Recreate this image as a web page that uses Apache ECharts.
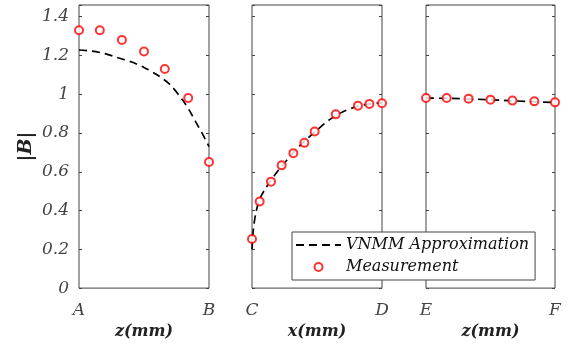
<!DOCTYPE html>
<html><head><meta charset="utf-8">
<script src="https://cdn.jsdelivr.net/npm/echarts@6/dist/echarts.min.js"></script>
<style>html,body{margin:0;padding:0;background:#fff}#c{width:571px;height:345px}</style>
</head><body><div id="c"></div>
<script>
// ---- data ----
const panelNames = ['z(mm)', 'x(mm)', 'z(mm)'];
const endLabels = [['A', 'B'], ['C', 'D'], ['E', 'F']];
const yName = '|B|';
const seriesNames = ['VNMM Approximation', 'Measurement'];

const approxX1 = [0, 0.1, 0.2, 0.3, 0.4, 0.5, 0.6, 0.7, 0.8, 0.85, 0.9, 0.95, 1];
const approxY1 = [1.228, 1.222, 1.209, 1.188, 1.167, 1.138, 1.100, 1.050, 0.967, 0.915, 0.855, 0.795, 0.73];
const measX1 = [0, 0.16, 0.33, 0.5, 0.66, 0.84, 1];
const measY1 = [1.33, 1.33, 1.28, 1.22, 1.13, 0.98, 0.65];

const approxX2 = [0, 0.01, 0.03, 0.06, 0.1, 0.15, 0.2, 0.25, 0.3, 0.4, 0.5, 0.6, 0.7, 0.8, 0.9, 1];
const approxY2 = [0.2, 0.3, 0.39, 0.46, 0.51, 0.56, 0.605, 0.645, 0.685, 0.755, 0.815, 0.87, 0.91, 0.935, 0.95, 0.955];
const measX2 = [0, 0.059, 0.146, 0.228, 0.318, 0.403, 0.482, 0.644, 0.815, 0.903, 1];
const measY2 = [0.253, 0.447, 0.549, 0.633, 0.696, 0.749, 0.808, 0.896, 0.941, 0.950, 0.953];

const approxX3 = [0, 0.2, 0.4, 0.6, 0.8, 1];
const approxY3 = [0.98, 0.978, 0.974, 0.968, 0.962, 0.957];
const measX3 = [0, 0.16, 0.33, 0.5, 0.67, 0.84, 1];
const measY3 = [0.98, 0.98, 0.977, 0.972, 0.967, 0.963, 0.958];

const yMin = 0, yMax = 1.46, yStep = 0.2;

// ---- chart ----
const zip = (a, b) => a.map((v, i) => [v, b[i]]);
const approx = [zip(approxX1, approxY1), zip(approxX2, approxY2), zip(approxX3, approxY3)];
const meas = [zip(measX1, measY1), zip(measX2, measY2), zip(measX3, measY3)];

const FONT = 'DejaVu Serif';
const AXC = '#444';
const grids = [
  {left: 79, right: 362, top: 5, bottom: 55},
  {left: 252, right: 189, top: 5, bottom: 55},
  {left: 426, right: 16, top: 5, bottom: 55}
].map(g => Object.assign(g, {show: true, borderColor: AXC, borderWidth: 1, backgroundColor: '#fff'}));

const xAxis = [0, 1, 2].map(i => ({
  type: 'value', gridIndex: i, min: 0, max: 1, interval: 1,
  name: panelNames[i], nameLocation: 'middle', nameGap: 34,
  nameTextStyle: {fontFamily: FONT, fontStyle: 'italic', fontWeight: 'bold', fontSize: 16, color: '#222'},
  axisLine: {show: false}, axisTick: {show: false}, splitLine: {show: false},
  axisLabel: {margin: 14, fontFamily: FONT, fontStyle: 'italic', fontSize: 17, color: '#444',
    formatter: v => v === 0 ? endLabels[i][0] : (v === 1 ? endLabels[i][1] : '')}
}));

const fmtY = v => {
  const r = Math.round(v / yStep);
  if (Math.abs(r * yStep - v) > 1e-6) return '';
  return String(parseFloat((r * yStep).toFixed(2)));
};
const yAxis = [];
[0, 1, 2].forEach(i => {
  yAxis.push({
    type: 'value', gridIndex: i, min: yMin, max: yMax, interval: yStep,
    name: i === 0 ? yName : '', nameLocation: 'middle', nameGap: 43,
    nameTextStyle: {fontFamily: FONT, fontStyle: 'italic', fontWeight: 'bold', fontSize: 19, color: '#222'},
    axisLine: {show: false}, splitLine: {show: false},
    axisTick: {show: true, inside: true, length: 3, lineStyle: {color: AXC}},
    axisLabel: {show: i === 0, margin: 10, fontFamily: FONT, fontStyle: 'italic', fontSize: 17, color: '#444', formatter: fmtY}
  });
});
// right side ticks
[0, 1, 2].forEach(i => {
  yAxis.push({
    type: 'value', gridIndex: i, position: 'right', min: yMin, max: yMax, interval: yStep,
    axisLine: {show: false}, splitLine: {show: false},
    axisTick: {show: true, inside: true, length: 3, lineStyle: {color: AXC}},
    axisLabel: {show: false}
  });
});

const series = [];
[0, 1, 2].forEach(i => {
  series.push({
    name: seriesNames[0], type: 'line', xAxisIndex: i, yAxisIndex: i, data: approx[i],
    symbol: 'none', smooth: 0.3, lineStyle: {color: '#000', width: 1.7, type: [8, 5]}, itemStyle: {color: '#000'}, z: 2
  });
  series.push({
    name: seriesNames[1], type: 'scatter', xAxisIndex: i, yAxisIndex: i, data: meas[i],
    symbol: 'emptyCircle', symbolSize: 8, clip: false,
    itemStyle: {color: '#ff0000', borderColor: '#ff0000', borderWidth: 2}, z: 3
  });
});

const chart = echarts.init(document.getElementById('c'), null, {renderer: 'canvas'});
chart.setOption({
  animation: false,
  backgroundColor: '#fff',
  grid: grids, xAxis, yAxis, series,
  legend: {
    data: [
      {name: seriesNames[0], itemStyle: {opacity: 0}},
      {name: seriesNames[1]}
    ],
    orient: 'vertical', left: 292, top: 232,
    backgroundColor: '#fff', borderColor: AXC, borderWidth: 1, borderRadius: 0,
    padding: [5, 6, 5, 3], itemGap: 6, itemWidth: 45, itemHeight: 8,
    textStyle: {fontFamily: FONT, fontStyle: 'italic', fontSize: 16, color: '#111'},
    selectedMode: false, z: 10
  }
});
</script></body></html>
